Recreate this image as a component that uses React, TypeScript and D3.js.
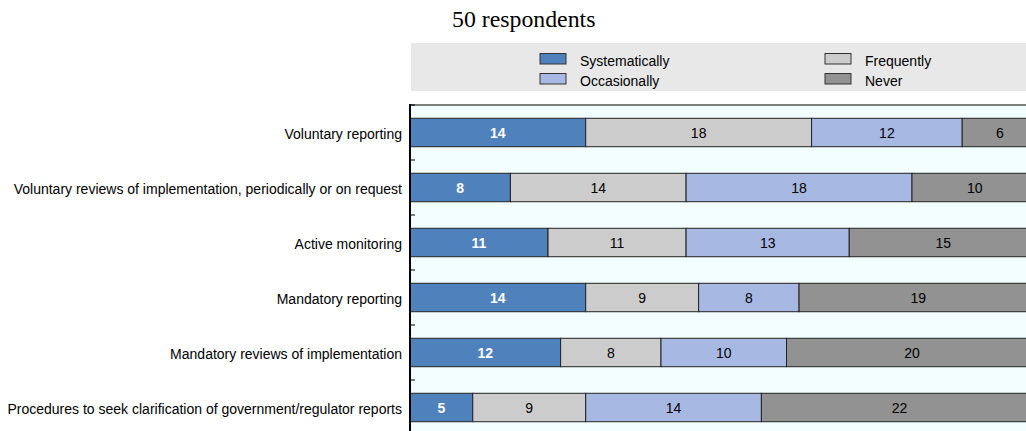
import React from "react";
import * as d3 from "d3";

const categories = [
  "Voluntary reporting",
  "Voluntary reviews of implementation, periodically or on request",
  "Active monitoring",
  "Mandatory reporting",
  "Mandatory reviews of implementation",
  "Procedures to seek clarification of government/regulator reports",
];
const seriesNames = ["Systematically", "Frequently", "Occasionally", "Never"];
const systematically = [14, 8, 11, 14, 12, 5];
const frequently = [18, 14, 11, 9, 8, 9];
const occasionally = [12, 18, 13, 8, 10, 14];
const never = [6, 10, 15, 19, 20, 22];
const colors = ["#4F81BD", "#CCCCCC", "#A7B9E3", "#929292"];
const title = "50 respondents";

const W = 1026;
const H = 431;

export default function App() {
  const seriesValues = [systematically, frequently, occasionally, never];
  const rows = categories.map((c, i) => {
    const r: any = { cat: c };
    seriesNames.forEach((s, k) => (r[s] = seriesValues[k][i]));
    return r;
  });
  const stacked = d3.stack().keys(seriesNames)(rows);
  const x = d3.scaleLinear().domain([0, 50]).range([410, 1037.5]);
  const y = d3
    .scaleBand()
    .domain(categories)
    .range([105, 435])
    .paddingInner(0.483)
    .paddingOuter(0.2415);
  const step = y.step();
  const tickYs = d3.range(categories.length + 1).map((i) => 105 + i * step);

  const legendItems = [
    { name: seriesNames[0], color: colors[0], x: 540, y: 53.5 },
    { name: seriesNames[1], color: colors[1], x: 825, y: 53.5 },
    { name: seriesNames[2], color: colors[2], x: 540, y: 73.5 },
    { name: seriesNames[3], color: colors[3], x: 825, y: 73.5 },
  ];

  return (
    <svg
      width={W}
      height={H}
      style={{ position: "absolute", left: 0, top: 0, background: "#fff" }}
      fontFamily="Liberation Sans, Arial, sans-serif"
    >
      <text x={452} y={27} fontFamily="Liberation Serif, Times New Roman, serif" fontSize={23.8} fill="#000">
        {title}
      </text>
      <rect x={411} y={43} width={W - 411} height={48} fill="#E8E8E8" />
      {legendItems.map((l) => (
        <g key={l.name}>
          <rect x={l.x} y={l.y} width={26} height={10.5} fill={l.color} stroke="#333" strokeWidth={1} />
          <text x={l.x + 40} y={l.y + 12} fontSize={14} fill="#000">
            {l.name}
          </text>
        </g>
      ))}
      <rect x={410} y={105} width={W - 410 + 5} height={H - 105 + 5} fill="#F2FEFF" stroke="#000" strokeWidth={1} />
      {stacked.map((s, k) => (
        <g key={s.key}>
          {s.map((d, i) => {
            const x0 = x(d[0]);
            const x1 = x(d[1]);
            const yy = y(categories[i]) as number;
            const v = d[1] - d[0];
            return (
              <g key={i}>
                <rect x={x0} y={yy} width={x1 - x0} height={y.bandwidth()} fill={colors[k]} stroke="#222" strokeWidth={1} />
                <text
                  x={(x0 + x1) / 2}
                  y={yy + y.bandwidth() / 2 + 5}
                  textAnchor="middle"
                  fontSize={14}
                  fontWeight={k === 0 ? "bold" : "normal"}
                  fill={k === 0 ? "#fff" : "#000"}
                >
                  {v}
                </text>
              </g>
            );
          })}
        </g>
      ))}
      <line x1={410} x2={410} y1={104} y2={H} stroke="#000" strokeWidth={2} />
      {tickYs.map((t, i) => (
        <line key={i} x1={410} x2={415} y1={t} y2={t} stroke="#000" strokeWidth={1} />
      ))}
      {categories.map((c) => (
        <text
          key={c}
          x={402}
          y={(y(c) as number) + y.bandwidth() / 2 + 6}
          textAnchor="end"
          fontSize={14}
          fill="#000"
        >
          {c}
        </text>
      ))}
    </svg>
  );
}
